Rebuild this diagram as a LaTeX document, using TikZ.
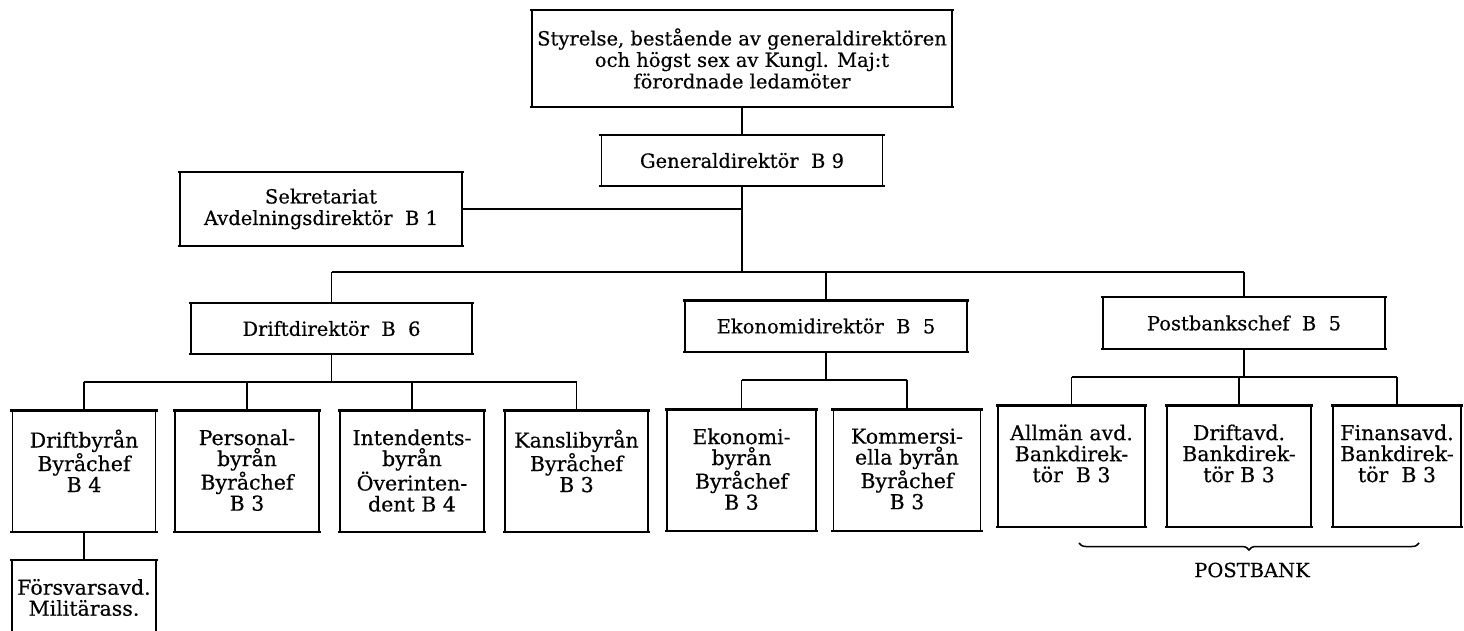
\documentclass[tikz,border=0pt]{standalone}
\usepackage{fontspec}
\setmainfont{DejaVu Serif}[FakeBold=0.4]
\usetikzlibrary{decorations.pathreplacing}

\begin{document}
\begin{tikzpicture}[x=1pt, y=-1pt, font=\fontsize{19.5}{21.5}\selectfont]
  \tikzstyle{hrule}=[draw, line width=2.4pt]
  \tikzstyle{vrule}=[draw, line width=1.5pt]
  \tikzstyle{openunit}=[inner sep=0pt, append after command={
      ([xshift=-2pt]\tikzlastnode.north west) edge[hrule] ([xshift=2pt]\tikzlastnode.north east)
      (\tikzlastnode.north west) edge[vrule] (\tikzlastnode.south west)
      (\tikzlastnode.north east) edge[vrule] (\tikzlastnode.south east)}]
  \tikzstyle{unit}=[openunit, append after command={
      ([xshift=-2pt]\tikzlastnode.south west) edge[hrule] ([xshift=2pt]\tikzlastnode.south east)}]
  \tikzstyle{head}=[unit, align=center]
  \tikzset{stack/.style 2 args={font=\fontsize{20.5}{21}\selectfont,
      execute at begin node={\begin{minipage}[c][#2][t]{#1}\centering\vspace*{19pt}},
      execute at end node={\end{minipage}}}}

  \fill[white] (0,0) rectangle (1464,631);
  \useasboundingbox (0,0) rectangle (1464,631);

  % top of the tree
  \node[head, minimum width=420, minimum height=97] (board) at (742,58.5)
    {Styrelse, bestående av generaldirektören\\och högst sex av Kungl. Maj:t\\förordnade ledamöter};
  \node[head, minimum width=281, minimum height=51] (gd) at (742,160.5) {Generaldirektör~~B~9};
  \node[head, minimum width=282, minimum height=74] (sek) at (321,209) {Sekretariat\\Avdelningsdirektör~~B~1};

  % directors
  \node[head, minimum width=281, minimum height=51] (drift) at (331.5,328.5) {Driftdirektör~~B~~6};
  \node[head, minimum width=282, minimum height=51] (ekon) at (826,326) {Ekonomidirektör~~B~~5};
  \node[head, minimum width=282, minimum height=52] (post) at (1244,323) {Postbankschef~~B~~5};

  % bureaus
  \node[unit, stack={143pt}{121pt}] (drb) at (84,471) {Driftbyrån\\Byråchef\\B 4};
  \node[unit, stack={144pt}{121pt}] (pers) at (247,471) {Personal-\\byrån\\Byråchef\\B 3};
  \node[unit, stack={144pt}{121pt}] (int) at (412,471) {Intendents-\\byrån\\Överinten-\\dent B 4};
  \node[unit, stack={143pt}{121pt}] (kans) at (576.5,471) {Kanslibyrån\\Byråchef\\B 3};
  \node[unit, stack={149pt}{121pt}] (ekb) at (741.5,470) {Ekonomi-\\byrån\\Byråchef\\B 3};
  \node[unit, stack={147pt}{121pt}] (kom) at (907,470) {Kommersi-\\ella byrån\\Byråchef\\B 3};
  \node[unit, stack={147pt}{121pt}] (allm) at (1071.5,466) {Allmän avd.\\Bankdirek-\\tör~~B 3};
  \node[unit, stack={144pt}{121pt}] (dravd) at (1239,466) {Driftavd.\\Bankdirek-\\tör B 3};
  \node[unit, stack={128pt}{121pt}] (fin) at (1397,466) {Finansavd.\\Bankdirek-\\tör~~B 3};
  \node[openunit, stack={144pt}{71pt}] (forsv) at (84,595.5) {Försvarsavd.\\Militärass.};

  % bar levels
  \coordinate (hub) at (741,272);
  \coordinate (dbar) at (0,382);
  \coordinate (ebar) at (0,380);
  \coordinate (pbar) at (0,377);

  \draw[vrule] (board.south) -- (gd.north);
  \draw[vrule] (gd.south) -- (gd.south |- hub);
  \draw[hrule] (sek.east) -- (sek.east -| hub);
  \draw[hrule] (drift.north |- hub) -- (post.north |- hub);
  \foreach \n in {drift, ekon, post}
    \draw[vrule] (\n.north |- hub) -- (\n.north);

  \draw[vrule] (drift.south) -- (drift.south |- dbar);
  \draw[hrule] (drb.north |- dbar) -- (kans.north |- dbar);
  \foreach \n in {drb, pers, int, kans}
    \draw[vrule] (\n.north |- dbar) -- (\n.north);

  \draw[vrule] (ekon.south) -- (ekon.south |- ebar);
  \draw[hrule] (ekb.north |- ebar) -- (kom.north |- ebar);
  \foreach \n in {ekb, kom}
    \draw[vrule] (\n.north |- ebar) -- (\n.north);

  \draw[vrule] (post.south) -- (post.south |- pbar);
  \draw[hrule] (allm.north |- pbar) -- (fin.north |- pbar);
  \foreach \n in {allm, dravd, fin}
    \draw[vrule] (\n.north |- pbar) -- (\n.north);

  \draw[vrule] (drb.south) -- (forsv.north);

  % postbank brace
  \coordinate (bl) at (1079,543);
  \coordinate (br) at (1419,543);
  \draw[vrule, decorate, decoration={brace, mirror, amplitude=7pt}] (bl) -- (br);
  \node (pblabel) at (1252,570) {POSTBANK};
\end{tikzpicture}
\end{document}
